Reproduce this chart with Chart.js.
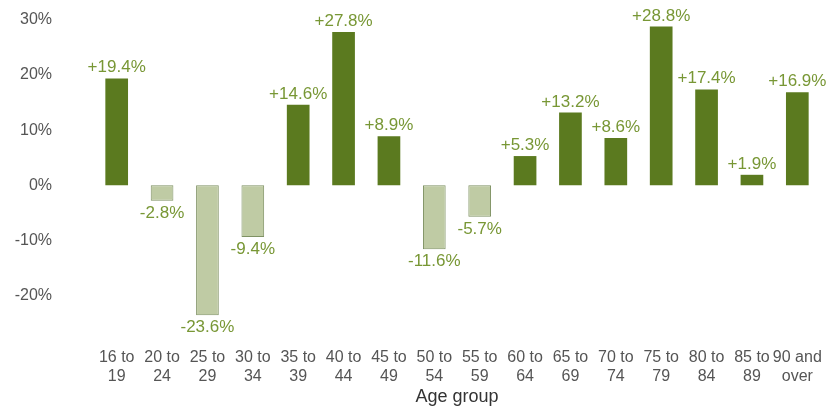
<!DOCTYPE html>
<html><head><meta charset="utf-8">
<script src="https://cdn.jsdelivr.net/npm/chart.js@4/dist/chart.umd.min.js"></script>
<style>html,body{margin:0;padding:0;background:#fff}#wrap{width:836px;height:408px}</style>
</head><body><div id="wrap"><canvas id="c" width="836" height="408"></canvas></div>
<script>
const categories = [["16 to","19"],["20 to","24"],["25 to","29"],["30 to","34"],["35 to","39"],["40 to","44"],["45 to","49"],["50 to","54"],["55 to","59"],["60 to","64"],["65 to","69"],["70 to","74"],["75 to","79"],["80 to","84"],["85 to","89"],["90 and","over"]];
const changes = [19.4,-2.8,-23.6,-9.4,14.6,27.8,8.9,-11.6,-5.7,5.3,13.2,8.6,28.8,17.4,1.9,16.9];
const yTicks = [-20,-10,0,10,20,30];
const xTitle = "Age group";

const dark = '#5b7a1f', light = '#bfcba4', lightBorder = '#7f9264', labelCol = '#789735';
const fontFam = '"Liberation Sans", Arial, sans-serif';

const labelPlugin = {
  id:'vlabels',
  afterDatasetsDraw(chart){
    const ctx = chart.ctx, meta = chart.getDatasetMeta(0);
    ctx.save();
    ctx.font = '17px ' + fontFam;
    ctx.fillStyle = labelCol;
    ctx.textAlign = 'center';
    ctx.textBaseline = 'alphabetic';
    meta.data.forEach((bar,i)=>{
      const v = changes[i];
      const txt = (v>0?'+':'') + v.toFixed(1) + '%';
      if (v>=0) ctx.fillText(txt, bar.x, bar.y-6);
      else ctx.fillText(txt, bar.x, bar.y+17);
    });
    ctx.restore();
  }
};

new Chart(document.getElementById('c'),{
  type:'bar',
  data:{labels:categories,datasets:[{
    data:changes,
    backgroundColor:changes.map(v=>v>=0?dark:light),
    borderColor:changes.map(v=>v>=0?dark:lightBorder),
    borderWidth:changes.map(v=>v>=0?0:1),
    borderSkipped:false,
    barPercentage:0.5, categoryPercentage:1.0
  }]},
  options:{
    responsive:false, animation:false,
    layout:{padding:{top:0,right:7,left:0,bottom:0}},
    plugins:{legend:{display:false},tooltip:{enabled:false}},
    scales:{
      x:{grid:{display:false,drawTicks:false},border:{display:false},
        afterFit(ax){ax.height=74;},
        ticks:{color:'#555',font:{size:16,family:fontFam,lineHeight:1.19},maxRotation:0,autoSkip:false,padding:14},
        title:{display:true,text:xTitle,color:'#333',font:{size:18,family:fontFam},padding:{top:0,bottom:0}}},
      y:{min:-27,max:30,grid:{display:false,drawTicks:false},border:{display:false},
        afterBuildTicks(ax){ax.ticks=yTicks.map(v=>({value:v}));},
        afterFit(ax){ax.width=94; ax.paddingTop=20; ax.paddingBottom=10;},
        ticks:{color:'#555',font:{size:16,family:fontFam},padding:42,callback:v=>v+'%'}}
    }
  },
  plugins:[labelPlugin]
});
</script></body></html>
